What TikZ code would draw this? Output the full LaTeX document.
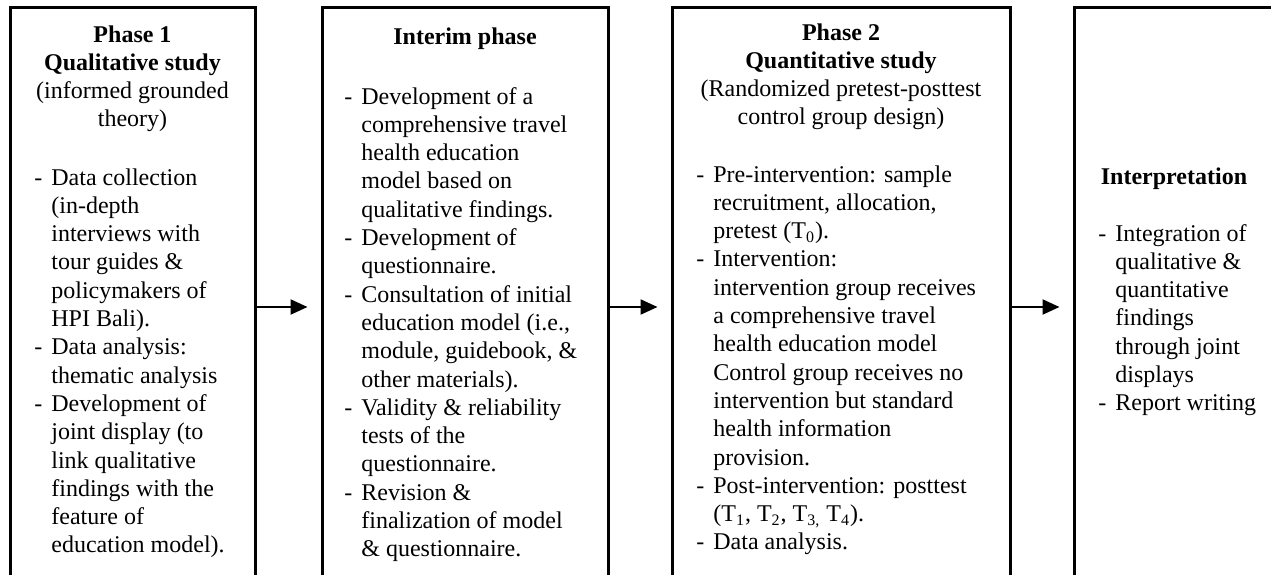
\documentclass[tikz,border=0pt]{standalone}
\usepackage{fontspec}
\setmainfont{Liberation Serif}
\usetikzlibrary{arrows.meta}

% two-column list: dash column plus hanging text column
\newenvironment{dashlist}{\begin{tabular}[t]{@{}p{8.5pt}@{}l@{}}}{\end{tabular}}
\newenvironment{headlines}{\begin{tabular}[t]{@{}c@{}}}{\end{tabular}}

\begin{document}
\begin{tikzpicture}[x=0.5pt,y=-0.5pt,
  every node/.style={inner sep=0pt, font=\fontsize{12pt}{14.15pt}\selectfont},
  phasebox/.style={draw=black, line width=1.5pt, rectangle, inner sep=0pt},
  txt/.style={anchor=base west},
  head/.style={anchor=base},
  arr/.style={line width=1.1pt, -{Triangle[length=8.5pt,width=7.5pt]}, shorten >=6.5pt},
]
\useasboundingbox (0,0) rectangle (1271,574);
\clip (0,0) rectangle (1271,574);
\fill[white] (0,0) rectangle (1271,574);

% phase boxes (their lower edges run below the page)
\node[phasebox, minimum width=122.5pt, minimum height=316.5pt] (b1) at (132.5,323.5) {};
\node[phasebox, minimum width=143pt,   minimum height=316.5pt] (b2) at (465,323.5) {};
\node[phasebox, minimum width=169pt,   minimum height=316.5pt] (b3) at (841,323.5) {};
\node[phasebox, minimum width=113pt,   minimum height=316.5pt] (b4) at (1187,323.5) {};

% connectors
\coordinate (ay) at (0,307);
\draw[arr] (b1.east |- ay) -- (b2.west |- ay);
\draw[arr] (b2.east |- ay) -- (b3.west |- ay);
\draw[arr] (b3.east |- ay) -- (b4.west |- ay);

% Phase 1
\node[head] (h1) at (132.5,42) {\begin{headlines}
\textbf{Phase 1}\\
\textbf{Qualitative study}\\
(informed grounded\\
theory)
\end{headlines}};
\node[txt] (l1) at (34,185) {\begin{dashlist}
- & Data collection\\
  & (in-depth\\
  & interviews with\\
  & tour guides \&\\
  & policymakers of\\
  & HPI Bali).\\
- & Data analysis:\\
  & thematic analysis\\
- & Development of\\
  & joint display (to\\
  & link qualitative\\
  & findings with the\\
  & feature of\\
  & education model).
\end{dashlist}};

% Interim phase
\node[head] (h2) at (465,44) {\textbf{Interim phase}};
\node[txt] (l2) at (344,104) {\begin{dashlist}
- & Development of a\\
  & comprehensive travel\\
  & health education\\
  & model based on\\
  & qualitative findings.\\
- & Development of\\
  & questionnaire.\\
- & Consultation of initial\\
  & education model (i.e.,\\
  & module, guidebook, \&\\
  & other materials).\\
- & Validity \& reliability\\
  & tests of the\\
  & questionnaire.\\
- & Revision \&\\
  & finalization of model\\
  & \& questionnaire.
\end{dashlist}};

% Phase 2
\node[head] (h3) at (841,40) {\begin{headlines}
\textbf{Phase 2}\\
\textbf{Quantitative study}\\
(Randomized pretest-posttest\\
control group design)
\end{headlines}};
\node[txt] (l3) at (696,182) {\begin{dashlist}
- & Pre-intervention: sample\\
  & recruitment, allocation,\\
  & pretest (T\textsubscript{0}).\\
- & Intervention:\\
  & intervention group receives\\
  & a comprehensive travel\\
  & health education model\\
  & Control group receives no\\
  & intervention but standard\\
  & health information\\
  & provision.\\
- & Post-intervention: posttest\\
  & (T\textsubscript{1}, T\textsubscript{2}, T\textsubscript{3,} T\textsubscript{4}).\\
- & Data analysis.
\end{dashlist}};

% Interpretation
\node[head] (h4) at (1174,184) {\textbf{Interpretation}};
\node[txt] (l4) at (1098,241) {\begin{dashlist}
- & Integration of\\
  & qualitative \&\\
  & quantitative\\
  & findings\\
  & through joint\\
  & displays\\
- & Report writing
\end{dashlist}};
\end{tikzpicture}
\end{document}
